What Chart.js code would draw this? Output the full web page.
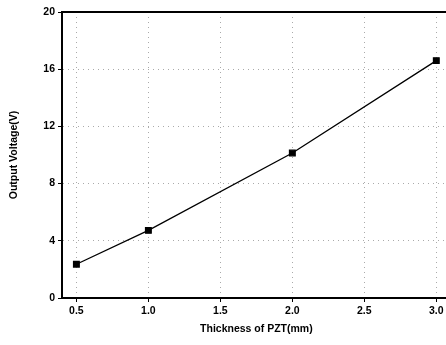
<!DOCTYPE html>
<html><head><meta charset="utf-8">
<script src="https://cdn.jsdelivr.net/npm/chart.js@4/dist/chart.umd.min.js"></script>
<style>html,body{margin:0;padding:0;background:#fff;overflow:hidden;width:446px;height:345px}#w{width:456px;height:345px;position:relative}</style>
</head><body><div id="w"><canvas id="c"></canvas></div>
<script>
const thickness = [0.5, 1.0, 2.0, 3.0];
const voltage = [2.36, 4.73, 10.14, 16.6];
const xTicks = [0.5, 1.0, 1.5, 2.0, 2.5, 3.0];
const yTicks = [0, 4, 8, 12, 16, 20];

const topLine = {
  id: 'topLine',
  afterDraw(chart) {
    const a = chart.chartArea, ctx = chart.ctx;
    ctx.save(); ctx.strokeStyle = '#000'; ctx.lineWidth = 2;
    ctx.beginPath(); ctx.moveTo(a.left, a.top); ctx.lineTo(a.right, a.top);
    ctx.stroke(); ctx.restore();
  }
};
const font = {family: '"Liberation Sans", Arial, sans-serif', size: 10.5, weight: 'bold'};
new Chart(document.getElementById('c'), {
  type: 'scatter',
  data: { datasets: [{
    data: thickness.map((x, i) => ({x, y: voltage[i]})),
    showLine: true, borderColor: '#000', borderWidth: 1.3,
    backgroundColor: '#000', pointStyle: 'rect', pointRadius: 4
  }]},
  options: {
    responsive: true, maintainAspectRatio: false, animation: false,
    layout: {padding: {top: 12, right: 0, left: 4, bottom: 0}},
    plugins: {legend: {display: false}, tooltip: {enabled: false}},
    scales: {
      x: {
        type: 'linear', min: 0.4, max: 3.1,
        afterBuildTicks: s => { s.ticks = xTicks.map(v => ({value: v})); },
        ticks: {color: '#000', font, padding: 3, maxRotation: 0, callback: v => v.toFixed(1)},
        grid: {color: '#aaa', lineWidth: 1, tickLength: 4, tickColor: '#000'},
        border: {color: '#000', width: 2, dash: [1, 4]},
        title: {display: true, text: 'Thickness of PZT(mm)', color: '#000', font, padding: {top: 4, bottom: 10}},
        afterFit: s => { s.height = 47; }
      },
      y: {
        min: 0, max: 20,
        afterBuildTicks: s => { s.ticks = yTicks.map(v => ({value: v})); },
        ticks: {color: '#000', font, padding: 3},
        grid: {color: '#aaa', lineWidth: 1, tickLength: 4, tickColor: '#000'},
        border: {color: '#000', width: 2, dash: [1, 4]},
        title: {display: true, text: 'Output Voltage(V)', color: '#000', font, padding: {bottom: 8}},
        afterFit: s => { s.width = 58; }
      }
    }
  },
  plugins: [topLine]
});
</script></body></html>
